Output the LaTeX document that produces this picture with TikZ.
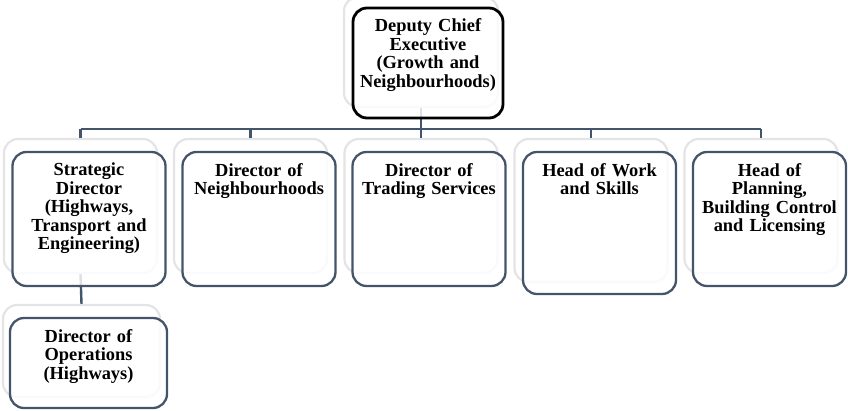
\documentclass[tikz,border=0pt]{standalone}
\usepackage{fontspec}
\setmainfont{Liberation Serif}
\usetikzlibrary{calc}
\definecolor{boxline}{HTML}{44546A}
\definecolor{shade}{HTML}{E4E4E4}
\begin{document}
\hyphenpenalty=10000\relax
\exhyphenpenalty=10000\relax
\begin{tikzpicture}[x=1pt,y=-1pt,
  shadowbox/.style={draw=shade, line width=2.2pt, fill=white, rounded corners=14pt, inner sep=0pt},
  frontbox/.style={draw=boxline, line width=2.3pt, fill=white, fill opacity=0.82, rounded corners=14pt, inner sep=0pt},
  topbox/.style={draw=black, line width=2.8pt, fill=white, fill opacity=0.82, rounded corners=14pt, inner sep=0pt},
  conn/.style={draw=boxline, line width=2.4pt},
  txt/.style={font=\bfseries\fontsize{18.4}{18.5}\selectfont, align=center, text width=139pt, inner sep=0pt, anchor=north, text=black}]
\useasboundingbox (0,0) rectangle (848,410);

% shadow boxes
\node[shadowbox, minimum width=154pt, minimum height=110pt] (sT) at (421,52) {};
\node[shadowbox, minimum width=153pt, minimum height=134pt] (s1) at (80.5,206) {};
\node[shadowbox, minimum width=153pt, minimum height=134pt] (s2) at (250.5,206) {};
\node[shadowbox, minimum width=153pt, minimum height=134pt] (s3) at (421,206) {};
\node[shadowbox, minimum width=153pt, minimum height=143pt] (s4) at (591,210.5) {};
\node[shadowbox, minimum width=153pt, minimum height=134pt] (s5) at (761,206) {};
\node[shadowbox, minimum width=157pt, minimum height=92pt] (s6) at (81.5,351) {};

% connectors
\coordinate (bus) at (0,129);
\draw[conn] (sT.south) -- (sT.south |- bus);
\draw[conn] (s1.north |- bus) -- (s5.north |- bus);
\foreach \s in {s1,s2,s3,s4,s5} {\draw[conn] (\s.north |- bus) -- (\s.north);}
\draw[conn] (s1.south) -- (s6.north);

% front boxes
\node[topbox, minimum width=150pt, minimum height=110pt] (fT) at (428,63) {};
\node[frontbox, minimum width=153pt, minimum height=134pt] (f1) at (89,219) {};
\node[frontbox, minimum width=153pt, minimum height=134pt] (f2) at (259,219) {};
\node[frontbox, minimum width=153pt, minimum height=134pt] (f3) at (429,219) {};
\node[frontbox, minimum width=153pt, minimum height=142pt] (f4) at (599.5,223) {};
\node[frontbox, minimum width=153pt, minimum height=134pt] (f5) at (769.5,219) {};
\node[frontbox, minimum width=157pt, minimum height=90pt] (f6) at (88.5,363) {};

% texts
\node[txt] (tT) at ($(fT.north)+(0,12)$) {Deputy Chief Executive (Growth and Neighbourhoods)};
\node[txt] (t1) at ($(f1.north)+(0,12)$) {Strategic Director (Highways, Transport and Engineering)};
\node[txt] (t2) at ($(f2.north)+(0,12)$) {Director of Neighbourhoods};
\node[txt] (t3) at ($(f3.north)+(0,12)$) {Director of Trading Services};
\node[txt] (t4) at ($(f4.north)+(0,12)$) {Head of Work and Skills};
\node[txt] (t5) at ($(f5.north)+(0,12)$) {Head of Planning, Building Control and Licensing};
\node[txt] (t6) at ($(f6.north)+(0,12)$) {Director of Operations (Highways)};
\end{tikzpicture}
\end{document}
